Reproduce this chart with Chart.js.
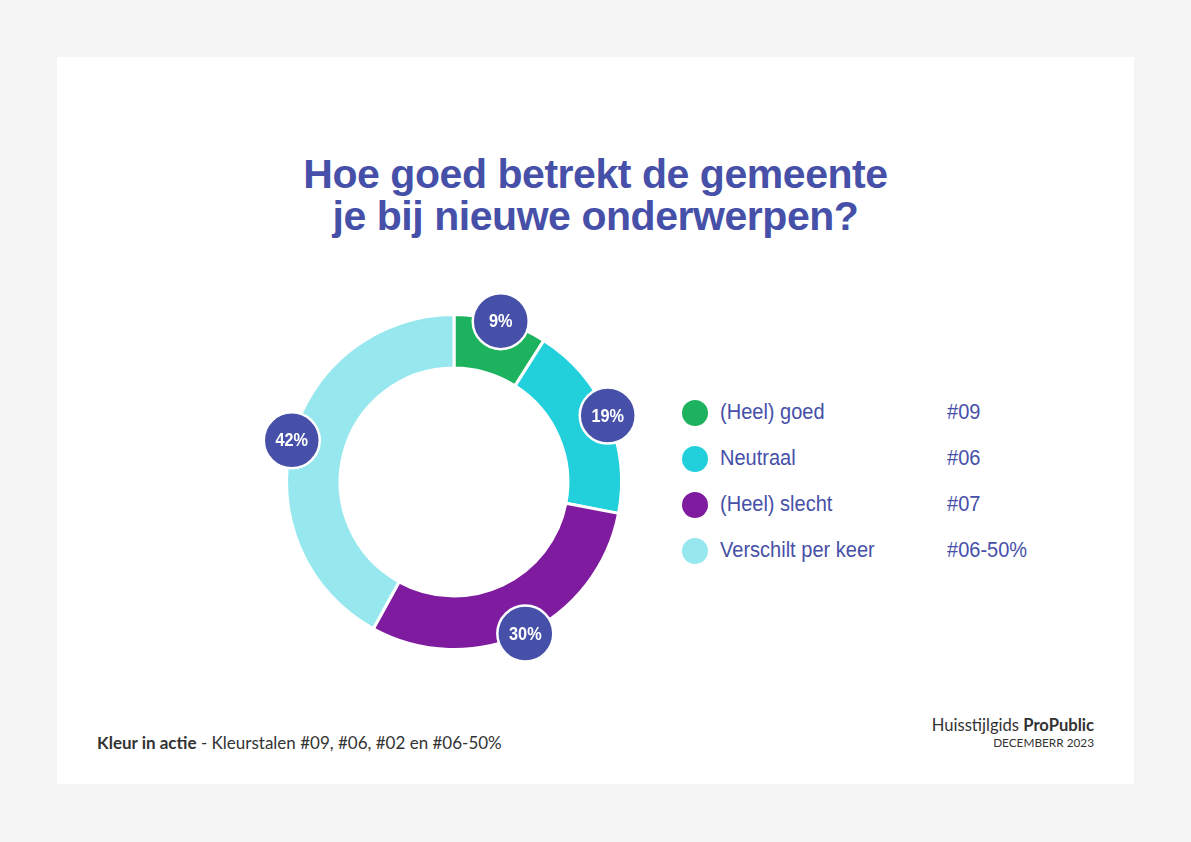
<!DOCTYPE html>
<html lang="nl">
<head>
<meta charset="utf-8">
<title>Hoe goed betrekt de gemeente je bij nieuwe onderwerpen?</title>
<script src="https://cdn.jsdelivr.net/npm/chart.js@4/dist/chart.umd.min.js"></script>
<style>
  html, body { margin: 0; padding: 0; }
  body {
    width: 1191px; height: 842px; background: #f5f5f5;
    position: relative; overflow: hidden;
    font-family: "Liberation Sans", Arial, sans-serif;
  }
  .card {
    position: absolute; left: 57px; top: 57px; width: 1077px; height: 727px;
    background: #fff;
  }
  .title {
    position: absolute; left: 0; width: 1077px; margin: 0;
    text-align: center; color: #4650a8; font-size: 41px; line-height: 41px;
    font-weight: bold; letter-spacing: -0.45px; white-space: nowrap;
  }
  .title.l1 { top: 97px; }
  .title.l2 { top: 139px; }
  .chart-wrap { position: absolute; left: 197px; top: 225px; width: 400px; height: 400px; }
  .legend { position: absolute; left: 623px; top: 343px; }
  .legend-row { position: relative; height: 46px; width: 420px; }
  .legend-row .dot {
    position: absolute; left: 2px; top: 0px; width: 26px; height: 26px; border-radius: 50%;
  }
  .legend-row span {
    position: absolute; top: -1px; font-family: "Liberation Sans", Arial, sans-serif;
    font-size: 22.5px; color: #4650a8; white-space: nowrap;
    transform: scaleX(0.89); transform-origin: left center;
  }
  .legend-row .label { left: 40px; }
  .legend-row .code { left: 267px; }
  .footer-left {
    position: absolute; left: 40px; top: 675px; font-family: Lato, sans-serif;
    font-size: 17px; color: #333;
  }
  .footer-right {
    position: absolute; right: 40px; top: 658px; text-align: right;
    font-family: Lato, sans-serif; color: #333;
  }
  .footer-right .brand { font-size: 16.6px; }
  .footer-right .date { font-size: 11.8px; margin-top: 0px; }
</style>
</head>
<body>
<div class="card">
  <h1 class="title l1">Hoe goed betrekt de gemeente</h1>
  <h1 class="title l2">je bij nieuwe onderwerpen?</h1>
  <div class="chart-wrap"><canvas id="donut" width="400" height="400"></canvas></div>
  <div class="legend" id="legend"></div>
  <div class="footer-left"><b>Kleur in actie</b> - Kleurstalen #09, #06, #02 en #06-50%</div>
  <div class="footer-right">
    <div class="brand">Huisstijlgids <b>ProPublic</b></div>
    <div class="date">DECEMBERR 2023</div>
  </div>
</div>
<script>
// data
const categories = ['(Heel) goed', 'Neutraal', '(Heel) slecht', 'Verschilt per keer'];
const colorCodes = ['#09', '#06', '#07', '#06-50%'];
const percentages = [9, 19, 30, 42];
const sliceColors = ['#1db35e', '#22d0dc', '#7f1b9e', '#96e8ee'];

const badgeColor = '#4650a8';

// legend
const legend = document.getElementById('legend');
categories.forEach((name, i) => {
  const row = document.createElement('div');
  row.className = 'legend-row';
  row.innerHTML = `<div class="dot" style="background:${sliceColors[i]}"></div>` +
    `<span class="label">${name}</span><span class="code">${colorCodes[i]}</span>`;
  legend.appendChild(row);
});

// draws the round percentage badges on the outer edge of every slice
const badgePlugin = {
  id: 'badges',
  afterDatasetsDraw(chart) {
    const { ctx } = chart;
    const meta = chart.getDatasetMeta(0);
    meta.data.forEach((arc, i) => {
      const mid = (arc.startAngle + arc.endAngle) / 2;
      const r = arc.outerRadius;
      const x = arc.x + Math.cos(mid) * r;
      const y = arc.y + Math.sin(mid) * r;
      ctx.save();
      ctx.beginPath();
      ctx.arc(x, y, 28, 0, Math.PI * 2);
      ctx.fillStyle = badgeColor;
      ctx.fill();
      ctx.lineWidth = 2.5;
      ctx.strokeStyle = '#fff';
      ctx.stroke();
      // narrow white label
      ctx.translate(x, y + 1);
      ctx.scale(0.88, 1);
      ctx.fillStyle = '#fff';
      ctx.font = 'bold 18.5px "Liberation Sans", Arial, sans-serif';
      ctx.textAlign = 'center';
      ctx.textBaseline = 'middle';
      ctx.fillText(percentages[i] + '%', 0, 0);
      ctx.restore();
    });
  }
};

new Chart(document.getElementById('donut'), {
  type: 'doughnut',
  data: {
    labels: categories,
    datasets: [{
      data: percentages,
      backgroundColor: sliceColors,
      borderColor: '#ffffff',
      borderWidth: 3,
      hoverOffset: 0
    }]
  },
  options: {
    responsive: false,
    animation: false,
    cutout: '68%',
    layout: { padding: 31 },
    plugins: {
      legend: { display: false },
      tooltip: { enabled: false }
    }
  },
  plugins: [badgePlugin]
});
</script>
</body>
</html>
